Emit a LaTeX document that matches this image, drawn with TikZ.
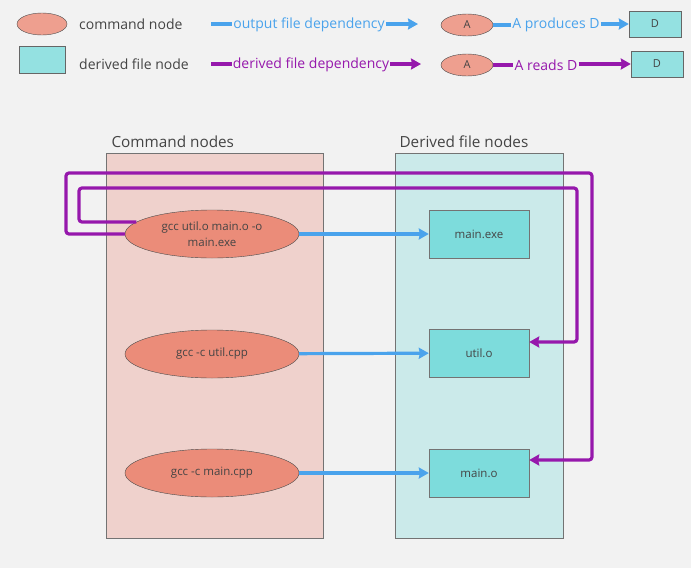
\documentclass[tikz,border=0pt]{standalone}
\usepackage{fontspec}
\setmainfont{Open Sans}
\usetikzlibrary{shapes.geometric,arrows.meta}

\definecolor{bgcol}{HTML}{F2F2F2}
\definecolor{cmdfill}{HTML}{EB8C79}
\definecolor{cmdlight}{HTML}{EE9F8F}
\definecolor{cmdarea}{HTML}{EFD1CC}
\definecolor{filefill}{HTML}{7DDCDC}
\definecolor{filelight}{HTML}{94E1E1}
\definecolor{filearea}{HTML}{CBEAEA}
\definecolor{outblue}{HTML}{4AA3EC}
\definecolor{readpurple}{HTML}{9618AC}
\definecolor{txtgray}{HTML}{444444}

\tikzset{
  cmd/.style={ellipse, draw=black!70, fill=cmdfill, minimum width=174pt,
    minimum height=48pt, inner sep=0pt, align=center, font=\fontsize{11.5}{15.5}\selectfont,
    text=txtgray},
  file/.style={rectangle, draw=black!55, fill=filefill, minimum width=100pt,
    minimum height=48pt, font=\fontsize{11.5}{14}\selectfont, text=txtgray},
  area/.style={rectangle, draw=black!55, anchor=north west},
  areatitle/.style={anchor=base west, font=\fontsize{15.3}{18}\selectfont, text=txtgray},
  outdep/.style={draw=outblue, line width=3.2pt, -{Stealth[length=10pt,width=11pt,inset=1pt]}},
  readdep/.style={draw=readpurple, line width=3.2pt, rounded corners=3pt,
    -{Stealth[length=10pt,width=11pt,inset=1pt]}},
  lgtext/.style={font=\fontsize{14}{16}\selectfont, inner sep=1pt},
  lgcmd/.style={ellipse, draw=black!70, fill=cmdlight, minimum width=52pt,
    minimum height=22pt, inner sep=0pt, font=\fontsize{11}{13}\selectfont, text=txtgray},
  lgfile/.style={rectangle, draw=black!60, fill=filelight, minimum width=52pt,
    minimum height=26pt, inner sep=0pt, font=\fontsize{11}{13}\selectfont, text=txtgray},
}

\begin{document}
\begin{tikzpicture}[x=1pt, y=-1pt]
  \fill[bgcol] (0,0) rectangle (691,568);
  \useasboundingbox (0,0) rectangle (691,568);

  % legend
  \node[lgcmd, minimum width=50pt] (keycmd) at (42,24) {};
  \node[lgtext, anchor=west, text=txtgray] (keycmdtxt) at (78,24) {command node};
  \node[lgfile, minimum width=46pt, minimum height=27pt] (keyfile) at (42,60) {};
  \node[lgtext, anchor=west, text=txtgray] (keyfiletxt) at (78,64) {derived file node};

  \coordinate (outstart) at (211,24);
  \coordinate (outend) at (418,24);
  \node[lgtext, text=outblue] (outtxt) at (309,25) {output file dependency};
  \draw[draw=outblue, line width=3.2pt] (outstart) -- (outtxt.west |- outstart);
  \draw[outdep] (outtxt.east |- outend) -- (outend);

  \coordinate (readstart) at (211,64);
  \coordinate (readend) at (421,64);
  \node[lgtext, text=readpurple] (readtxt) at (311,65) {derived file dependency};
  \draw[draw=readpurple, line width=3.2pt] (readstart) -- (readtxt.west |- readstart);
  \draw[readdep] (readtxt.east |- readend) -- (readend);

  \node[lgcmd] (exA) at (467,25) {A};
  \node[lgfile] (exD) at (655,24) {D};
  \node[lgtext, text=outblue] (prodtxt) at (556,25) {A produces D};
  \draw[draw=outblue, line width=3.2pt] (exA) -- (prodtxt.west |- exA);
  \draw[outdep] (prodtxt.east |- exD) -- (exD);

  \node[lgcmd] (exB) at (467,65) {A};
  \node[lgfile] (exE) at (657,64) {D};
  \node[lgtext, text=readpurple] (readstxt) at (546,65) {A reads D};
  \draw[draw=readpurple, line width=3.2pt] (exB) -- (readstxt.west |- exB);
  \draw[readdep] (readstxt.east |- exE) -- (exE);

  % areas
  \node[area, fill=cmdarea, minimum width=217pt, minimum height=385pt] (cmdarea) at (106,153) {};
  \node[area, fill=filearea, minimum width=168pt, minimum height=385pt] (filearea) at (395,153) {};
  \node[areatitle] (cmdtitle) at (108,147) {Command nodes};
  \node[areatitle] (filetitle) at (396,147) {Derived file nodes};

  % command nodes
  \node[cmd] (link) at (212,234) {gcc util.o main.o -o\\main.exe};
  \node[cmd] (ccutil) at (212,354) {gcc -c util.cpp};
  \node[cmd] (ccmain) at (212,473) {gcc -c main.cpp};

  % derived file nodes
  \node[file] (mainexe) at (479,234) {main.exe};
  \node[file] (utilo) at (479,353) {util.o};
  \node[file] (maino) at (479,473) {main.o};

  \draw[outdep] (link) -- (mainexe);
  \draw[outdep] (ccutil) -- (utilo);
  \draw[outdep] (ccmain) -- (maino);

  \draw[readdep] (link.171) -- (79,222) -- (79,188) -- (577,188) -- (577,342)
    -- ([yshift=11pt]utilo.east);
  \draw[readdep] (link.west) -- (66,234) -- (66,173) -- (592,173) -- (592,460)
    -- ([yshift=13pt]maino.east);
\end{tikzpicture}
\end{document}
